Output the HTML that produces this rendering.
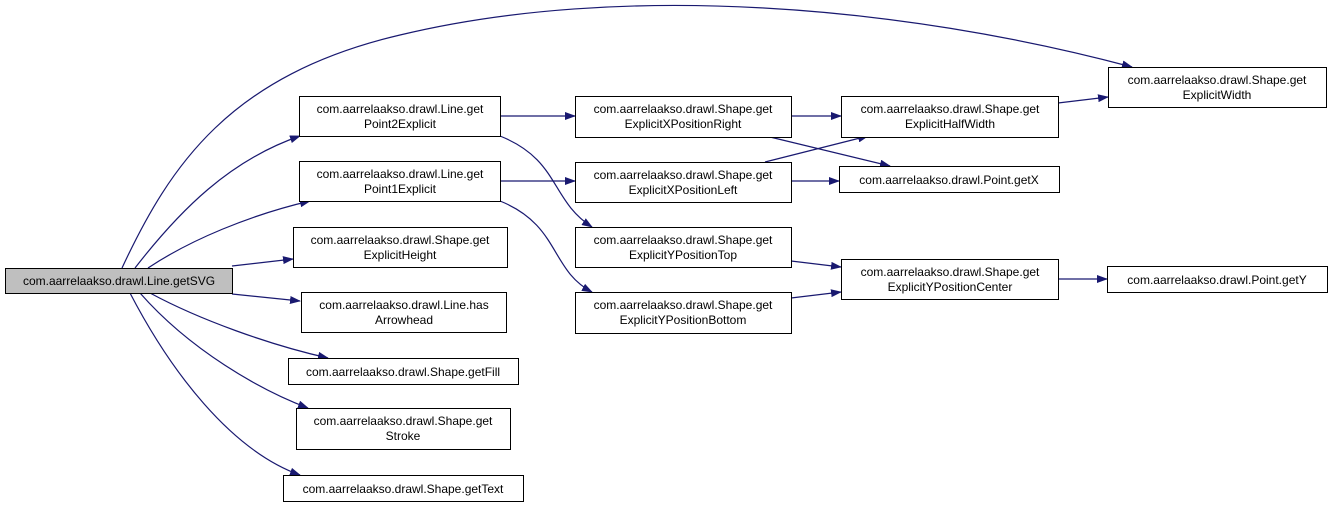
<!DOCTYPE html>
<html><head><meta charset="utf-8"><style>
html,body{margin:0;padding:0;background:#fff;width:1329px;height:507px;overflow:hidden}
text{font-family:"Liberation Sans",Arial,sans-serif;font-size:12px;fill:#000}
</style></head><body>
<svg width="1329" height="507" viewBox="0 0 1329 507" xmlns="http://www.w3.org/2000/svg">
<defs><marker id="a" markerWidth="11" markerHeight="8" refX="10" refY="4" orient="auto" markerUnits="userSpaceOnUse"><path d="M0,0 L11,4 L0,8 z" fill="#191970"/></marker></defs>
<g fill="none" stroke="#191970" stroke-width="1.2" marker-end="url(#a)">
<path d="M122,268 C170,165 230,75 400,35 C620,-18 900,5 1132,67"/>
<path d="M135,268 C180,210 230,160 300,136"/>
<path d="M148,268 C190,240 250,215 310,201"/>
<path d="M232,266 L293,259"/>
<path d="M232,294 L300,301"/>
<path d="M150,293 C200,320 270,345 328,358"/>
<path d="M140,293 C190,350 260,390 308,408"/>
<path d="M130,293 C170,370 230,450 300,475"/>
<path d="M500,116 L575,116"/>
<path d="M500,136 C560,160 550,200 592,227"/>
<path d="M500,181 L575,181"/>
<path d="M500,201 C560,225 550,270 592,292"/>
<path d="M791,116 L841,116"/>
<path d="M770,137 L890,166"/>
<path d="M765,162 L868,136"/>
<path d="M791,181 L839,181"/>
<path d="M791,261 L841,267"/>
<path d="M791,298 L841,292"/>
<path d="M1058,103 L1108,97"/>
<path d="M1058,279 L1107,279"/>
</g>
<g stroke="#000" stroke-width="1" fill="#fff">
<rect x="5.5" y="268.5" width="227" height="25" fill="#bfbfbf"/>
<rect x="299.5" y="96.5" width="201" height="40"/>
<rect x="299.5" y="161.5" width="201" height="40"/>
<rect x="293.5" y="227.5" width="214" height="40"/>
<rect x="301.5" y="292.5" width="205" height="40"/>
<rect x="288.5" y="358.5" width="230" height="26"/>
<rect x="296.5" y="408.5" width="214" height="41"/>
<rect x="283.5" y="475.5" width="240" height="26"/>
<rect x="575.5" y="96.5" width="216" height="41"/>
<rect x="575.5" y="162.5" width="216" height="40"/>
<rect x="575.5" y="227.5" width="216" height="40"/>
<rect x="575.5" y="292.5" width="216" height="41"/>
<rect x="841.5" y="96.5" width="217" height="41"/>
<rect x="839.5" y="166.5" width="220" height="26"/>
<rect x="841.5" y="259.5" width="217" height="40"/>
<rect x="1108.5" y="67.5" width="218" height="40"/>
<rect x="1107.5" y="266.5" width="220" height="26"/>
</g>
<g text-anchor="middle">
<text x="119" y="285">com.aarrelaakso.drawl.Line.getSVG</text>
<text x="400" y="113">com.aarrelaakso.drawl.Line.get</text><text x="400" y="128">Point2Explicit</text>
<text x="400" y="178">com.aarrelaakso.drawl.Line.get</text><text x="400" y="193">Point1Explicit</text>
<text x="400" y="244">com.aarrelaakso.drawl.Shape.get</text><text x="400" y="259">ExplicitHeight</text>
<text x="404" y="309">com.aarrelaakso.drawl.Line.has</text><text x="404" y="324">Arrowhead</text>
<text x="403" y="376">com.aarrelaakso.drawl.Shape.getFill</text>
<text x="403" y="425">com.aarrelaakso.drawl.Shape.get</text><text x="403" y="440">Stroke</text>
<text x="403" y="493">com.aarrelaakso.drawl.Shape.getText</text>
<text x="683" y="113">com.aarrelaakso.drawl.Shape.get</text><text x="683" y="128">ExplicitXPositionRight</text>
<text x="683" y="179">com.aarrelaakso.drawl.Shape.get</text><text x="683" y="194">ExplicitXPositionLeft</text>
<text x="683" y="244">com.aarrelaakso.drawl.Shape.get</text><text x="683" y="259">ExplicitYPositionTop</text>
<text x="683" y="309">com.aarrelaakso.drawl.Shape.get</text><text x="683" y="324">ExplicitYPositionBottom</text>
<text x="950" y="113">com.aarrelaakso.drawl.Shape.get</text><text x="950" y="128">ExplicitHalfWidth</text>
<text x="949" y="184">com.aarrelaakso.drawl.Point.getX</text>
<text x="950" y="276">com.aarrelaakso.drawl.Shape.get</text><text x="950" y="291">ExplicitYPositionCenter</text>
<text x="1217" y="84">com.aarrelaakso.drawl.Shape.get</text><text x="1217" y="99">ExplicitWidth</text>
<text x="1217" y="284">com.aarrelaakso.drawl.Point.getY</text>
</g>
</svg>
</body></html>
